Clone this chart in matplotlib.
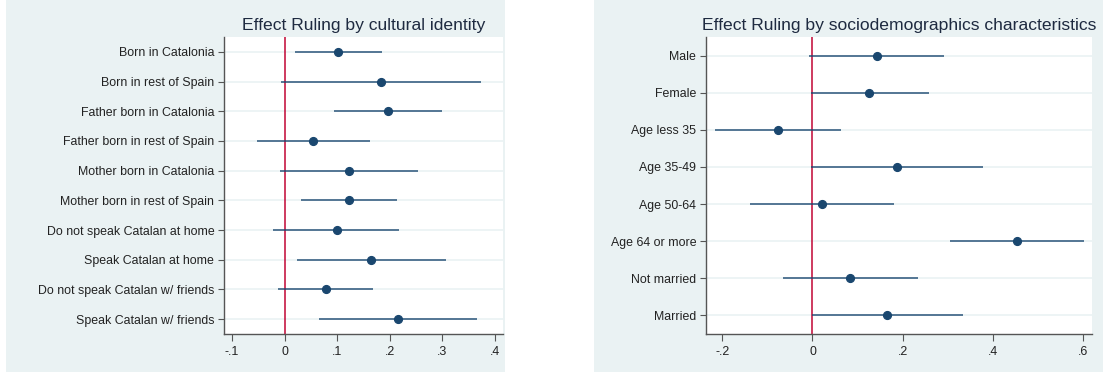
import matplotlib.pyplot as plt
from matplotlib.patches import Rectangle

plt.rcParams['font.family'] = ['Liberation Sans', 'DejaVu Sans']

# cultural identity groups: point estimate and 95% interval
cult_labels = ["Born in Catalonia", "Born in rest of Spain", "Father born in Catalonia",
               "Father born in rest of Spain", "Mother born in Catalonia",
               "Mother born in rest of Spain", "Do not speak Catalan at home",
               "Speak Catalan at home", "Do not speak Catalan w/ friends",
               "Speak Catalan w/ friends"]
cult_est = [0.102, 0.184, 0.196, 0.055, 0.122, 0.122, 0.099, 0.165, 0.078, 0.216]
cult_lo = [0.020, -0.006, 0.094, -0.052, -0.009, 0.031, -0.021, 0.023, -0.013, 0.065]
cult_hi = [0.186, 0.374, 0.300, 0.162, 0.254, 0.213, 0.217, 0.306, 0.169, 0.366]
cult_ticks = [-0.1, 0, 0.1, 0.2, 0.3, 0.4]
cult_ticklabels = ["-.1", "0", ".1", ".2", ".3", ".4"]

# sociodemographic groups
soc_labels = ["Male", "Female", "Age less 35", "Age 35-49", "Age 50-64",
              "Age 64 or more", "Not married", "Married"]
soc_est = [0.142, 0.126, -0.077, 0.187, 0.022, 0.454, 0.084, 0.166]
soc_lo = [-0.007, -0.004, -0.217, -0.004, -0.138, 0.306, -0.065, 0.000]
soc_hi = [0.292, 0.259, 0.064, 0.379, 0.181, 0.603, 0.234, 0.333]
soc_ticks = [-0.2, 0, 0.2, 0.4, 0.6]
soc_ticklabels = ["-.2", "0", ".2", ".4", ".6"]

navy = '#1a476f'
bg = '#eaf2f3'

fig = plt.figure(figsize=(11.03, 3.72), dpi=100)
fig.patches.append(Rectangle((0.0054, 0), 0.4524, 1, transform=fig.transFigure,
                             facecolor=bg, edgecolor='none', zorder=-1))
fig.patches.append(Rectangle((0.5385, 0), 0.4615, 1, transform=fig.transFigure,
                             facecolor=bg, edgecolor='none', zorder=-1))


def coefplot(ax, labels, est, lo, hi, xlim, ticks, ticklabels, title):
    n = len(labels)
    ys = list(range(n, 0, -1))
    for y in ys:
        ax.axhline(y, color=bg, lw=1.2, zorder=0)
    ax.axvline(0, color='#c10534', lw=1.1, zorder=1)
    ax.hlines(ys, lo, hi, color=navy, lw=1.2, alpha=0.85, zorder=2)
    ax.plot(est, ys, 'o', color=navy, markersize=5.6, zorder=3)
    ax.set_ylim(0.5, n + 0.5)
    ax.set_xlim(*xlim)
    ax.set_yticks(ys)
    ax.set_yticklabels(labels)
    ax.set_xticks(ticks)
    ax.set_xticklabels(ticklabels)
    ax.tick_params(axis='y', length=4, width=0.8, color='#555555', labelsize=8.9,
                   labelcolor='#222222', pad=3)
    ax.tick_params(axis='x', length=5, width=0.8, color='#555555', labelsize=8.9,
                   labelcolor='#222222', pad=4)
    for s in ['top', 'right']:
        ax.spines[s].set_visible(False)
    for s in ['left', 'bottom']:
        ax.spines[s].set_color('#555555')
        ax.spines[s].set_linewidth(1.0)
    ax.set_facecolor('white')
    ax.set_title(title, fontsize=12.6, color='#1e2a40', pad=5)


ax1 = fig.add_axes([0.2031, 0.1022, 0.2529, 0.7984])
coefplot(ax1, cult_labels, cult_est, cult_lo, cult_hi, (-0.115, 0.415),
         cult_ticks, cult_ticklabels, "Effect Ruling by cultural identity")

ax2 = fig.add_axes([0.6401, 0.1022, 0.35, 0.7984])
coefplot(ax2, soc_labels, soc_est, soc_lo, soc_hi, (-0.236, 0.62),
         soc_ticks, soc_ticklabels, "Effect Ruling by sociodemographics characteristics")

fig.savefig('out.png', dpi=100)
